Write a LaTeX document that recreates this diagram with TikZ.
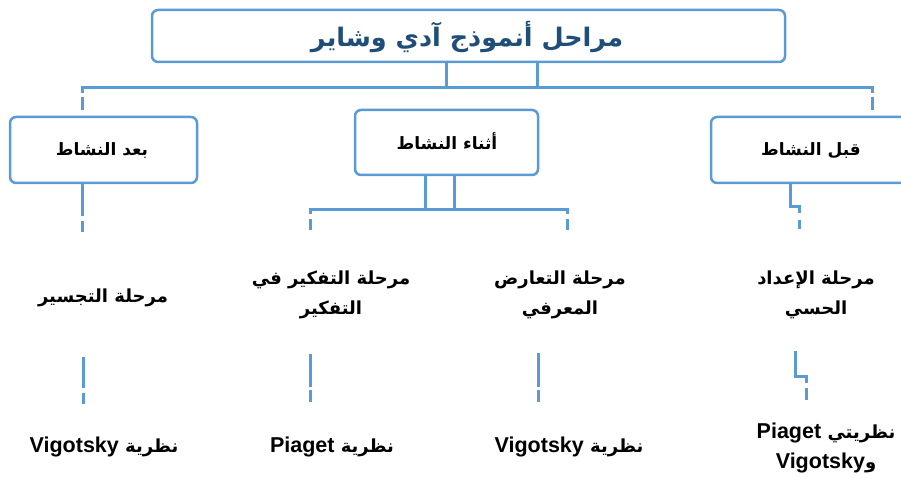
\documentclass[tikz,border=0pt]{standalone}
\usepackage{fontspec}
\TeXXeTstate=1
\newfontfamily\arabicfont[Script=Arabic]{DejaVu Sans}
\newfontfamily\latinfont{Liberation Sans}
\definecolor{ln}{HTML}{5B9BD5}
\definecolor{tt}{HTML}{1F4E79}
\newcommand{\AR}[1]{\beginR#1\endR}
\newcommand{\LT}[1]{{\latinfont\bfseries\fontsize{21.5}{30}\selectfont #1}}
\begin{document}
\begin{tikzpicture}[x=1pt,y=-1pt,
  boxstyle/.style={draw=ln, line width=2.5pt, rounded corners=6pt, fill=white, inner sep=0pt},
  conn/.style={draw=ln, line width=3pt},
  lbl/.style={font=\arabicfont\bfseries\fontsize{17}{20}\selectfont, text=black, align=center},
  rowtxt/.style={font=\arabicfont\bfseries\fontsize{18}{30}\selectfont, text=black, align=center, inner sep=0pt}
]
\useasboundingbox (0,0) rectangle (901,478);

% title
\node[boxstyle, minimum width=633pt, minimum height=52pt] (title) at (468.5,36) {};
\node[font=\arabicfont\bfseries\fontsize{25.5}{30}\selectfont, text=tt] (titletxt) at (467,37) {\AR{مراحل أنموذج آدي وشاير}};

% bar
\coordinate (tA) at (446,88);
\coordinate (tB) at (537,88);
\coordinate (barL) at (82,88);
\coordinate (barR) at (872,88);
\draw[conn] (title.south -| tA) -- (tA);
\draw[conn] (title.south -| tB) -- (tB);
\draw[conn] ([xshift=-1.5pt]barL) -- ([xshift=1.5pt]barR);

% level 1 boxes
\node[boxstyle, minimum width=187pt, minimum height=66pt] (lbox) at (103.5,150) {};
\node[boxstyle, minimum width=183pt, minimum height=65pt] (mbox) at (446.5,142.5) {};
\node[boxstyle, minimum width=200pt, minimum height=66pt] (rbox) at (811,150) {};
\node[lbl] (ltxt) at (102,151) {\AR{بعد النشاط}};
\node[lbl] (mtxt) at (447,141) {\AR{أثناء النشاط}};
\node[lbl] (rtxt) at (811,151) {\AR{قبل النشاط}};

% bar to boxes
\draw[conn, dash pattern=on 5pt off 4pt on 13pt off 100pt] (barL) -- (lbox.north -| barL);
\draw[conn, dash pattern=on 5pt off 4pt on 13pt off 100pt] (barR) -- (rbox.north -| barR);

% left box down
\coordinate (lE) at (82,232);
\draw[conn, dash pattern=on 32pt off 5pt on 12pt off 100pt] (lbox.south -| lE) -- (lE);

% middle box down
\coordinate (mA) at (425,210);
\coordinate (mB) at (454,210);
\coordinate (mL) at (310,210);
\coordinate (mR) at (567,210);
\coordinate (mLe) at (310,230);
\coordinate (mRe) at (567,230);
\draw[conn] (mbox.south -| mA) -- (mA);
\draw[conn] (mbox.south -| mB) -- (mB);
\draw[conn] ([xshift=-1.5pt]mL) -- ([xshift=1.5pt]mR);
\draw[conn, dash pattern=on 4pt off 5pt on 12pt off 100pt] (mL) -- (mLe);
\draw[conn, dash pattern=on 4pt off 5pt on 12pt off 100pt] (mR) -- (mRe);

% right box down
\coordinate (rA) at (790,207);
\coordinate (rB) at (799,213);
\coordinate (rC) at (799,220);
\coordinate (rD) at (799,229);
\draw[conn] (rbox.south -| rA) -- (rA) -| (rB);
\draw[conn] (rC) -- (rD);

% row 2 texts
\node[rowtxt] (r2a) at (103,298) {\AR{مرحلة التجسير}};
\node[rowtxt] (r2b) at (331,295) {\AR{مرحلة التفكير في}\\\AR{التفكير}};
\node[rowtxt] (r2c) at (560,295) {\AR{مرحلة التعارض}\\\AR{المعرفي}};
\node[rowtxt] (r2d) at (816,295) {\AR{مرحلة الإعداد}\\\AR{الحسي}};

% row 2 to row 3 connectors
\coordinate (a1) at (83,357); \coordinate (a2) at (83,404);
\coordinate (b1) at (310,354); \coordinate (b2) at (310,402);
\coordinate (c1) at (538,353); \coordinate (c2) at (538,402);
\draw[conn, dash pattern=on 31pt off 5pt on 11pt off 100pt] (a1) -- (a2);
\draw[conn, dash pattern=on 33pt off 3pt on 12pt off 100pt] (b1) -- (b2);
\draw[conn, dash pattern=on 34pt off 3pt on 12pt off 100pt] (c1) -- (c2);
\coordinate (d1) at (795,351); \coordinate (d2) at (795,376);
\coordinate (d3) at (806,383); \coordinate (d4) at (806,388); \coordinate (d5) at (806,400);
\draw[conn] (d1) -- (d2) -| (d3);
\draw[conn] (d4) -- (d5);

% row 3 texts
\node[rowtxt] (r3a) at (104,447) {\AR{نظرية \LT{Vigotsky}}};
\node[rowtxt] (r3b) at (332,447) {\AR{نظرية \LT{Piaget}}};
\node[rowtxt] (r3c) at (569,447) {\AR{نظرية \LT{Vigotsky}}};
\node[rowtxt] (r3d) at (826,448) {\AR{نظريتي \LT{Piaget}}\\\AR{و\LT{Vigotsky}}};
\end{tikzpicture}
\end{document}
